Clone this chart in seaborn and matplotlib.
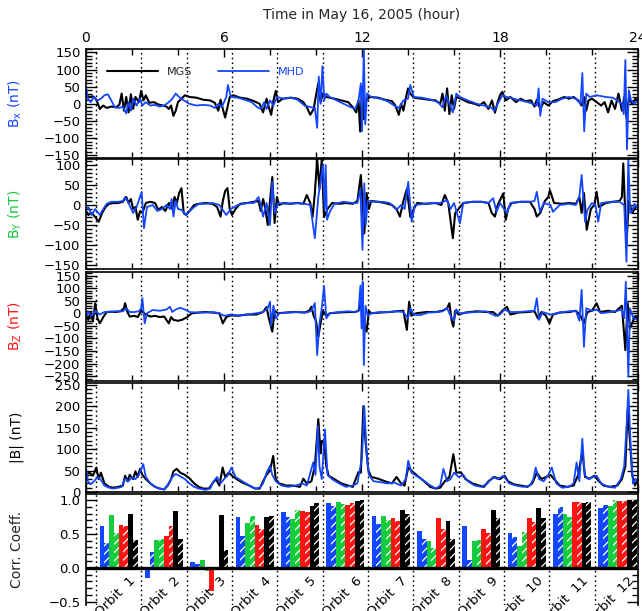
import numpy as np
import pandas as pd
import matplotlib
matplotlib.use('Agg')
import matplotlib.pyplot as plt
import seaborn as sns
from matplotlib.ticker import MultipleLocator

bx_mgs = [(0.0, 25), (0.15, 20), (0.3, 22), (0.45, 12), (0.6, -15), (0.75, -5), (0.9, -12), (1.1, -8),
          (1.3, -10), (1.45, -3), (1.55, 30), (1.65, -20), (1.75, 20), (1.85, -25), (1.95, 28), (2.05, -15),
          (2.15, 20), (2.3, 5), (2.4, 38), (2.5, 10), (2.6, 25), (2.75, 3), (2.95, 5), (3.15, -2), (3.35, -5),
          (3.5, -8), (3.6, -15), (3.7, -5), (3.8, -35), (3.9, -20), (4.0, 5), (4.15, 15), (4.3, 25), (4.5, 20),
          (4.8, 18), (5.1, 12), (5.4, 10), (5.6, 3), (5.75, -20), (5.85, 12), (5.95, -15), (6.05, -40),
          (6.15, -10), (6.25, 20), (6.4, 25), (6.7, 18), (7.0, 15), (7.3, 8), (7.55, 0), (7.7, -25), (7.85, 15),
          (7.95, -10), (8.05, -32), (8.15, 10), (8.25, 38), (8.35, 5), (8.55, 15), (8.9, 18), (9.2, 15),
          (9.45, 5), (9.6, -10), (9.75, -32), (9.9, -15), (10.0, 25), (10.1, 60), (10.2, 5), (10.3, 30),
          (10.45, 20), (10.8, 15), (11.1, 10), (11.4, 5), (11.6, -10), (11.75, -25), (11.85, 10), (11.92, -81),
          (12.0, 50), (12.08, -45), (12.18, 10), (12.35, 20), (12.7, 18), (13.0, 12), (13.3, 8), (13.45, -5),
          (13.6, -32), (13.7, 0), (13.8, -20), (13.9, 15), (14.0, 45), (14.1, 30), (14.25, 18), (14.6, 15),
          (14.9, 12), (15.2, 10), (15.4, 0), (15.5, 30), (15.6, -20), (15.7, 45), (15.8, -30), (15.9, 25),
          (16.0, -15), (16.1, 20), (16.3, 15), (16.6, 5), (16.9, 0), (17.1, -5), (17.3, 5), (17.5, -15),
          (17.65, 10), (17.78, -26), (17.9, 5), (18.0, 25), (18.1, 35), (18.25, 10), (18.45, 20), (18.7, 5),
          (18.9, 15), (19.1, 8), (19.35, 10), (19.5, -8), (19.6, 12), (19.75, -15), (19.9, 5), (20.1, -5),
          (20.3, 8), (20.5, 12), (20.8, 20), (21.0, 15), (21.2, 20), (21.4, 10), (21.55, -5), (21.65, 20),
          (21.75, -20), (21.85, 10), (22.0, 15), (22.2, 5), (22.4, -5), (22.55, 5), (22.7, -25), (22.85, 10),
          (23.0, -15), (23.15, 30), (23.3, -20), (23.4, 20), (23.5, -40), (23.6, 15), (23.75, 0), (23.9, 15),
          (24.0, 10)]
bx_mhd = [(0.0, 50), (0.08, 15), (0.2, 5), (0.35, 20), (0.5, 10), (0.65, 15), (0.8, 25), (0.95, 28), (1.1, 10),
          (1.25, -10), (1.45, -12), (1.6, -8), (1.75, -28), (1.85, 5), (1.95, -20), (2.05, 15), (2.2, -5),
          (2.35, 15), (2.45, -5), (2.6, 5), (2.8, -5), (3.0, -3), (3.2, -8), (3.4, -5), (3.6, 5), (3.75, 15),
          (3.9, 30), (4.05, 20), (4.25, 10), (4.5, 0), (4.8, -5), (5.1, -3), (5.4, -5), (5.6, -12), (5.75, 0),
          (5.9, -10), (6.0, 5), (6.1, 20), (6.17, 55), (6.3, 20), (6.6, 18), (6.9, 12), (7.2, 5), (7.45, -10),
          (7.6, -15), (7.75, 5), (7.85, -15), (8.0, 10), (8.15, -5), (8.3, 20), (8.6, 15), (8.9, 18), (9.2, 12),
          (9.5, -5), (9.8, -10), (9.95, -12), (10.05, -70), (10.12, 80), (10.2, 0), (10.28, 110), (10.36, 10),
          (10.45, 30), (10.6, 20), (10.9, 10), (11.2, 0), (11.45, -8), (11.7, -15), (11.85, 10), (11.95, 60),
          (12.0, -80), (12.08, 160), (12.14, -60), (12.22, 30), (12.4, 20), (12.8, 15), (13.1, 8), (13.4, -5),
          (13.6, -12), (13.8, 10), (14.0, 15), (14.1, 55), (14.25, 20), (14.6, 18), (15.0, 12), (15.3, 5),
          (15.5, -10), (15.65, 25), (15.8, 0), (15.95, -25), (16.1, 30), (16.25, 20), (16.6, 10), (17.0, 0),
          (17.3, -5), (17.6, -10), (17.75, -20), (17.9, 0), (18.1, 25), (18.3, 20), (18.6, 15), (18.9, 10),
          (19.2, 5), (19.45, 0), (19.6, -5), (19.68, 45), (19.75, -35), (19.85, 15), (20.1, 5), (20.4, 5),
          (20.7, 15), (21.0, 20), (21.3, 15), (21.5, 0), (21.58, 90), (21.66, -80), (21.75, 30), (21.9, 20),
          (22.2, 25), (22.6, 20), (22.9, 18), (23.1, 10), (23.3, 0), (23.38, -30), (23.45, 128), (23.52, -133),
          (23.6, 40), (23.7, 10), (23.85, 0), (24.0, 10)]

by_mgs = [(0.0, -15), (0.1, -25), (0.25, -20), (0.4, -30), (0.55, -42), (0.7, -20), (0.85, -5), (1.0, 3),
          (1.2, 5), (1.4, 5), (1.6, 8), (1.75, 20), (1.85, 5), (1.95, 15), (2.05, -10), (2.15, -5), (2.25, -37),
          (2.35, -15), (2.45, -20), (2.6, 5), (2.8, 8), (3.0, 5), (3.15, -12), (3.3, -5), (3.45, -15), (3.6, 5),
          (3.75, -10), (3.85, 20), (3.95, 5), (4.05, 30), (4.15, 42), (4.25, -20), (4.35, -25), (4.5, -15),
          (4.7, 0), (4.9, 3), (5.2, 5), (5.5, 3), (5.7, -5), (5.85, -29), (5.95, 10), (6.05, 35), (6.15, 42),
          (6.25, -10), (6.35, -25), (6.5, -10), (6.7, 3), (7.0, 5), (7.3, 8), (7.5, 10), (7.6, -15), (7.7, 15),
          (7.8, -10), (7.9, -50), (8.0, 10), (8.1, 70), (8.2, -45), (8.3, 20), (8.4, 0), (8.6, 5), (8.9, 3),
          (9.2, 5), (9.45, 3), (9.6, 25), (9.75, 5), (9.85, -30), (9.95, 30), (10.05, 115), (10.15, 40),
          (10.25, 115), (10.35, -30), (10.5, -10), (10.7, 5), (11.0, 3), (11.3, 5), (11.6, 3), (11.8, 10),
          (11.95, 75), (12.1, -71), (12.2, 30), (12.3, -10), (12.4, 10), (12.7, 8), (13.0, 5), (13.3, 0),
          (13.5, -10), (13.65, -29), (13.8, 10), (13.95, 40), (14.1, -30), (14.25, -10), (14.4, 5), (14.8, 3),
          (15.2, 5), (15.45, 0), (15.6, 25), (15.75, 5), (15.85, -40), (15.95, -83), (16.05, -20), (16.2, -10),
          (16.4, 5), (16.8, 8), (17.2, 8), (17.5, 5), (17.64, -20), (17.78, -29), (17.9, 0), (18.14, 29),
          (18.25, -37), (18.35, -10), (18.5, 5), (18.9, 8), (19.3, 8), (19.5, -10), (19.6, -29), (19.75, -20),
          (19.95, 10), (20.1, 20), (20.17, 37), (20.35, 5), (20.7, 3), (21.0, 5), (21.3, 3), (21.45, 20),
          (21.55, -20), (21.65, 30), (21.77, -62), (21.95, -10), (22.1, 0), (22.2, 33), (22.3, -5), (22.6, 5),
          (22.9, 8), (23.2, 10), (23.3, 20), (23.36, 104), (23.5, -100), (23.6, 10), (23.75, -20), (23.9, -5),
          (24.0, 0)]
by_mhd = [(0.0, -10), (0.1, -5), (0.25, -25), (0.4, -10), (0.6, -25), (0.75, -10), (0.9, 3), (1.1, 8),
          (1.4, 8), (1.6, 10), (1.7, 20), (1.85, 5), (2.05, -20), (2.2, -5), (2.42, 33), (2.52, -58), (2.65, -5),
          (2.9, 0), (3.1, -15), (3.3, -10), (3.5, 0), (3.65, -10), (3.72, 15), (3.8, -29), (3.9, 10),
          (4.0, -10), (4.15, -12), (4.35, -25), (4.6, -10), (4.9, 3), (5.2, 3), (5.5, 5), (5.8, 0), (6.1, -25),
          (6.3, -10), (6.6, 0), (7.0, 5), (7.3, 5), (7.5, 20), (7.6, 0), (7.7, -29), (7.85, 5), (8.0, -50),
          (8.1, 58), (8.2, -20), (8.35, 5), (8.7, 3), (9.1, 5), (9.5, 3), (9.75, 0), (9.95, -83), (10.1, 20),
          (10.2, 60), (10.3, 100), (10.38, -10), (10.42, 100), (10.48, -37), (10.6, -17), (10.8, 3), (11.2, 8),
          (11.6, 5), (11.8, 5), (11.93, 40), (12.02, -112), (12.1, 54), (12.16, -50), (12.25, 10), (12.5, 8),
          (12.9, 8), (13.2, 5), (13.5, -12), (13.7, 0), (13.85, -10), (14.01, 58), (14.16, -42), (14.3, 0),
          (14.7, 3), (15.1, 5), (15.4, 5), (15.7, 12), (15.85, -10), (16.0, 5), (16.26, -46), (16.4, 5),
          (16.8, 8), (17.2, 8), (17.5, 5), (17.7, 17), (17.85, -17), (18.0, 5), (18.3, -21), (18.45, 5),
          (18.9, 8), (19.3, 8), (19.5, 10), (19.6, 33), (19.74, -17), (19.9, 5), (20.2, 0), (20.3, -17),
          (20.6, 0), (21.0, 3), (21.3, 0), (21.45, 20), (21.55, 75), (21.7, -42), (21.8, -12), (22.0, 5),
          (22.15, 0), (22.27, -42), (22.4, 5), (22.8, 8), (23.2, 8), (23.4, 0), (23.5, -142), (23.58, 115),
          (23.66, -20), (23.72, -17), (23.85, 3), (24.0, -10)]

bz_mgs = [(0.0, -10), (0.1, -26), (0.2, 5), (0.3, -33), (0.4, 40), (0.5, -20), (0.6, -40), (0.75, -15),
          (0.9, 5), (1.1, 6), (1.3, 5), (1.5, 8), (1.65, 20), (1.7, 40), (1.8, 5), (1.9, -13), (2.1, -10),
          (2.25, -15), (2.4, 10), (2.6, -5), (2.8, -13), (3.0, -10), (3.2, -15), (3.4, -13), (3.6, -40),
          (3.7, -15), (3.8, -26), (4.0, -30), (4.2, -25), (4.4, -15), (4.6, 0), (4.9, 3), (5.2, 5), (5.5, 3),
          (5.8, 0), (5.95, -40), (6.1, -15), (6.3, -8), (6.6, -10), (7.0, -5), (7.4, -5), (7.7, 5), (7.85, 25),
          (7.95, -20), (8.1, -73), (8.2, 10), (8.35, 0), (8.7, 3), (9.1, 5), (9.5, 3), (9.7, 10), (9.8, 26),
          (9.9, -10), (10.0, -30), (10.1, -93), (10.2, -40), (10.3, 10), (10.45, -10), (10.6, 0), (11.0, 3),
          (11.4, 5), (11.7, 5), (11.85, 10), (11.95, 40), (12.05, -30), (12.2, -73), (12.3, 10), (12.4, 0),
          (12.8, 3), (13.2, 5), (13.5, 8), (13.8, 10), (13.95, -66), (14.05, 46), (14.15, -10), (14.35, 0),
          (14.8, 5), (15.2, 5), (15.5, 10), (15.7, 20), (15.8, 40), (15.9, -30), (15.97, -53), (16.05, 10),
          (16.2, -5), (16.5, 3), (17.0, 8), (17.4, 5), (17.7, 5), (17.9, -10), (18.1, 10), (18.3, 26),
          (18.45, -5), (18.8, 3), (19.2, 5), (19.5, 8), (19.65, -20), (19.8, 5), (20.0, -10), (20.15, -40),
          (20.3, -5), (20.6, 3), (21.0, 5), (21.3, 10), (21.5, -10), (21.65, -40), (21.8, 5), (22.0, 10),
          (22.2, 40), (22.35, 5), (22.7, 10), (23.0, 5), (23.3, 30), (23.45, -146), (23.55, 40), (23.65, -60),
          (23.8, -26), (23.9, -10), (24.0, -30)]
bz_mhd = [(0.0, -15), (0.1, 5), (0.25, -10), (0.4, 10), (0.6, -5), (0.8, 5), (1.0, 6), (1.3, 8), (1.6, 8),
          (1.75, 20), (1.9, 5), (2.1, 5), (2.3, 8), (2.4, 20), (2.45, 60), (2.55, -40), (2.65, 0), (2.9, 13),
          (3.2, 10), (3.5, 15), (3.65, 26), (3.75, 5), (3.9, 15), (4.1, 22), (4.3, 15), (4.5, 5), (4.8, 3),
          (5.2, 3), (5.5, 5), (5.8, 0), (6.0, -10), (6.3, -5), (6.6, -8), (7.0, -5), (7.4, 0), (7.7, 5),
          (7.9, 20), (8.0, 46), (8.05, -50), (8.15, 30), (8.25, -20), (8.4, 0), (8.8, 3), (9.2, 5), (9.6, 3),
          (9.8, 10), (9.95, 40), (10.05, -166), (10.15, -40), (10.25, 20), (10.35, 108), (10.45, -20),
          (10.6, 0), (11.0, 5), (11.4, 8), (11.7, 5), (11.85, 10), (11.93, 110), (11.98, -60), (12.03, 125),
          (12.08, -206), (12.15, 30), (12.25, -10), (12.4, 0), (12.8, 5), (13.2, 5), (13.5, 8), (13.8, 5),
          (14.0, -20), (14.1, 20), (14.25, -5), (14.5, -8), (14.9, 3), (15.3, 5), (15.5, 8), (15.7, 20),
          (15.85, -10), (16.0, -30), (16.1, 15), (16.25, 0), (16.6, 3), (17.0, 5), (17.4, 8), (17.8, -10),
          (18.0, -5), (18.2, 15), (18.4, 5), (18.8, 5), (19.2, 8), (19.5, 10), (19.6, 60), (19.7, -26),
          (19.85, 5), (20.2, -5), (20.6, 3), (21.0, 8), (21.3, 10), (21.45, -30), (21.55, 93), (21.65, -133),
          (21.75, 20), (22.0, 10), (22.2, 15), (22.4, 0), (22.8, 5), (23.1, 10), (23.3, 15), (23.4, -20),
          (23.47, 125), (23.58, -252), (23.65, 20), (23.8, -20), (24.0, -25)]

bt_mgs = [(0.0, 40), (0.15, 45), (0.3, 38), (0.45, 57), (0.55, 30), (0.65, 45), (0.8, 20), (1.0, 12),
          (1.2, 10), (1.4, 12), (1.6, 15), (1.7, 38), (1.8, 25), (1.9, 40), (2.05, 30), (2.15, 48), (2.25, 35),
          (2.35, 54), (2.45, 40), (2.6, 30), (2.8, 20), (3.0, 12), (3.2, 8), (3.4, 6), (3.55, 15), (3.7, 30),
          (3.8, 48), (3.94, 54), (4.1, 45), (4.3, 40), (4.5, 32), (4.7, 20), (4.9, 12), (5.1, 8), (5.35, 8),
          (5.5, 20), (5.65, 30), (5.8, 15), (5.94, 57), (6.05, 35), (6.2, 45), (6.35, 38), (6.55, 30),
          (6.8, 22), (7.1, 15), (7.35, 8), (7.55, 8), (7.7, 25), (7.85, 40), (8.0, 50), (8.14, 84), (8.25, 30),
          (8.4, 20), (8.7, 15), (9.0, 15), (9.3, 12), (9.45, 31), (9.6, 20), (9.8, 25), (9.95, 60),
          (10.1, 170), (10.2, 90), (10.25, 119), (10.35, 115), (10.45, 60), (10.55, 38), (10.8, 30),
          (11.1, 20), (11.4, 15), (11.6, 12), (11.84, 46), (11.95, 45), (12.06, 200), (12.15, 120),
          (12.27, 52), (12.4, 35), (12.7, 31), (13.0, 25), (13.3, 20), (13.5, 35), (13.7, 20), (13.85, 15),
          (14.01, 57), (14.23, 46), (14.4, 38), (14.7, 25), (14.96, 12), (15.2, 8), (15.4, 10), (15.6, 25),
          (15.8, 35), (15.97, 88), (16.1, 45), (16.3, 46), (16.5, 30), (16.8, 20), (17.1, 15), (17.3, 12),
          (17.5, 25), (17.75, 35), (18.0, 30), (18.2, 38), (18.35, 25), (18.6, 18), (18.9, 15), (19.2, 12),
          (19.4, 20), (19.6, 45), (19.8, 30), (20.0, 35), (20.2, 40), (20.35, 30), (20.6, 15), (20.9, 12),
          (21.2, 15), (21.4, 40), (21.58, 95), (21.7, 35), (21.9, 31), (22.1, 38), (22.3, 25), (22.5, 15),
          (22.8, 12), (23.1, 15), (23.3, 30), (23.45, 60), (23.55, 192), (23.65, 120), (23.75, 40),
          (23.87, 15), (24.0, 31)]
bt_mhd = [(0.0, 57), (0.08, 25), (0.2, 18), (0.35, 25), (0.5, 35), (0.65, 28), (0.8, 15), (1.0, 10),
          (1.2, 8), (1.4, 10), (1.55, 12), (1.7, 31), (1.85, 25), (2.0, 35), (2.15, 30), (2.3, 40), (2.49, 65),
          (2.6, 35), (2.8, 20), (3.0, 12), (3.2, 8), (3.4, 6), (3.6, 20), (3.75, 35), (3.9, 42), (4.05, 38),
          (4.3, 30), (4.5, 20), (4.7, 12), (4.9, 8), (5.2, 5), (5.4, 8), (5.55, 25), (5.7, 35), (5.85, 20),
          (6.0, 30), (6.15, 38), (6.33, 57), (6.5, 35), (6.8, 25), (7.1, 15), (7.35, 8), (7.55, 10), (7.7, 20),
          (7.85, 45), (8.0, 61), (8.1, 40), (8.25, 25), (8.5, 15), (8.8, 12), (9.1, 15), (9.4, 20), (9.6, 15),
          (9.88, 69), (9.98, 40), (10.08, 154), (10.15, 60), (10.25, 30), (10.39, 146), (10.5, 40), (10.7, 30),
          (11.0, 20), (11.3, 12), (11.6, 15), (11.8, 20), (11.91, 54), (12.0, 80), (12.1, 200), (12.2, 90),
          (12.3, 40), (12.5, 25), (12.8, 23), (13.1, 20), (13.4, 22), (13.7, 15), (13.9, 30), (14.01, 73),
          (14.15, 45), (14.35, 38), (14.6, 30), (14.9, 18), (15.2, 8), (15.4, 15), (15.54, 54), (15.7, 25),
          (15.85, 30), (16.0, 45), (16.2, 35), (16.4, 40), (16.6, 25), (16.9, 15), (17.2, 12), (17.45, 20),
          (17.7, 35), (17.9, 30), (18.15, 38), (18.4, 20), (18.7, 15), (19.0, 12), (19.3, 15), (19.45, 30),
          (19.55, 57), (19.7, 30), (19.9, 25), (20.1, 40), (20.25, 57), (20.45, 20), (20.7, 10), (21.0, 12),
          (21.2, 20), (21.33, 69), (21.45, 25), (21.58, 124), (21.68, 40), (21.85, 30), (22.05, 35),
          (22.2, 38), (22.4, 20), (22.7, 12), (23.0, 10), (23.25, 30), (23.4, 60), (23.5, 150), (23.58, 238),
          (23.68, 110), (23.78, 20), (23.9, 30), (24.0, 25)]

# correlation coefficients per orbit (solid / hatched bar for each component)
orbits = ['Orbit  %d' % i for i in range(1, 13)]
corr_bx = [0.62, -0.15, 0.08, 0.75, 0.83, 0.96, 0.77, 0.54, 0.62, 0.52, 0.79, 0.89]
corr_bx_h = [0.36, 0.23, 0.05, 0.47, 0.75, 0.91, 0.64, 0.43, 0.12, 0.46, 0.90, 0.93]
corr_by = [0.78, 0.41, 0.12, 0.66, 0.72, 0.97, 0.76, 0.39, 0.39, 0.32, 0.80, 0.91]
corr_by_h = [0.52, 0.43, -0.05, 0.77, 0.85, 0.94, 0.71, 0.29, 0.41, 0.53, 0.75, 1.00]
corr_bz = [0.63, 0.47, -0.35, 0.63, 0.84, 0.93, 0.73, 0.73, 0.57, 0.73, 0.97, 0.98]
corr_bz_h = [0.62, 0.61, 0.01, 0.57, 0.82, 0.95, 0.69, 0.57, 0.51, 0.68, 0.97, 0.99]
corr_bt = [0.79, 0.84, 0.78, 0.75, 0.91, 0.99, 0.85, 0.69, 0.85, 0.89, 0.95, 1.00]
corr_bt_h = [0.41, 0.42, 0.27, 0.76, 0.95, 1.00, 0.79, 0.42, 0.73, 0.73, 0.97, 1.00]

# orbit boundaries (dotted lines): first periapsis and MGS orbital period, hours
orbit_start = 0.43
orbit_period = 1.972

blue = '#1346FF'
green = '#14CC3C'
red = '#FF1414'

sns.set_theme(style='white')
plt.rcParams['font.family'] = ['DejaVu Sans']
plt.rcParams['hatch.color'] = 'white'
plt.rcParams['hatch.linewidth'] = 0.9

fig = plt.figure(figsize=(6.42, 6.11), dpi=100)
L, W = 86/642, 552/642
def pos(top, bot):
    return [L, (611-bot)/611, W, (bot-top)/611]

ax1 = fig.add_axes(pos(49, 158))
ax2 = fig.add_axes(pos(159, 269))
ax3 = fig.add_axes(pos(272, 381))
ax4 = fig.add_axes(pos(383, 492))
ax5 = fig.add_axes(pos(494, 605))

panels = [(ax1, bx_mgs, bx_mhd, (-158, 160), r'B$_\mathregular{x}$ (nT)', blue),
          (ax2, by_mgs, by_mhd, (-160, 115), r'B$_\mathregular{Y}$ (nT)', green),
          (ax3, bz_mgs, bz_mhd, (-269, 164), r'B$_\mathregular{Z}$ (nT)', red),
          (ax4, bt_mgs, bt_mhd, (0, 254), '|B| (nT)', 'black')]

bounds = [orbit_start + orbit_period*k for k in range(12)]

for ax, mgs, mhd, ylim, lab, col in panels:
    d1 = pd.DataFrame(mgs, columns=['hour', 'nT'])
    d2 = pd.DataFrame(mhd, columns=['hour', 'nT'])
    sns.lineplot(data=d1, x='hour', y='nT', color='black', linewidth=1.5,
                 estimator=None, sort=False, ax=ax, label='MGS')
    sns.lineplot(data=d2, x='hour', y='nT', color=blue, linewidth=1.3,
                 estimator=None, sort=False, ax=ax, label='MHD')
    for b in bounds:
        ax.axvline(b, color='black', linestyle=(0, (1.2, 2.2)), linewidth=1.0, zorder=0)
    ax.set_xlim(0, 24)
    ax.set_ylim(*ylim)
    ax.xaxis.set_major_locator(MultipleLocator(6))
    ax.xaxis.set_minor_locator(MultipleLocator(2))
    ax.yaxis.set_major_locator(MultipleLocator(50))
    ax.yaxis.set_minor_locator(MultipleLocator(10))
    ax.set_xlabel('')
    ax.set_ylabel(lab, color=col, fontsize=10)
    ax.yaxis.set_label_coords(-0.112, 0.5)
    if ax.get_legend() is not None:
        ax.get_legend().remove()

# bar panel
rows = []
kinds = [('Bx', corr_bx), ('Bx h', corr_bx_h), ('By', corr_by), ('By h', corr_by_h),
         ('Bz', corr_bz), ('Bz h', corr_bz_h), ('B', corr_bt), ('B h', corr_bt_h)]
for name, vals in kinds:
    for o, v in zip(orbits, vals):
        rows.append({'orbit': o, 'kind': name, 'r': v})
df_corr = pd.DataFrame(rows)
sns.barplot(data=df_corr, x='orbit', y='r', hue='kind', order=orbits,
            hue_order=[k[0] for k in kinds],
            palette=[blue, blue, green, green, red, red, 'black', 'black'],
            width=0.84, gap=0, saturation=1, errorbar=None, legend=False, ax=ax5)
for i, cont in enumerate(ax5.containers):
    for bar in cont:
        bar.set_linewidth(0)
        if i % 2 == 1:
            bar.set_hatch('////')
            bar.set_edgecolor('white')
# map the categorical axis onto the time axis
x0 = (0 - orbit_start)/orbit_period - 0.5
x1 = (24 - orbit_start)/orbit_period - 0.5
ax5.set_xlim(x0, x1)
for k in range(12):
    ax5.axvline(k - 0.5, color='black', linestyle=(0, (1.2, 2.2)), linewidth=1.0, zorder=0)
ax5.axhline(0, color='black', linewidth=2.4, zorder=5)
ax5.set_ylim(-0.55, 1.09)
ax5.yaxis.set_major_locator(MultipleLocator(0.5))
ax5.yaxis.set_minor_locator(MultipleLocator(0.1))
ax5.yaxis.set_major_formatter('{x:.1f}')
ax5.set_xticks([])
ax5.set_xlabel('')
ax5.set_ylabel('Corr. Coeff.', fontsize=10)
ax5.yaxis.set_label_coords(-0.112, 0.5)
ax5.spines['bottom'].set_visible(False)
for k, o in enumerate(orbits):
    ax5.text(k + 0.32, -0.17, o, rotation=45, ha='right', va='center',
             rotation_mode='anchor', fontsize=9.5, color='black', zorder=6)

for ax in [ax1, ax2, ax3, ax4, ax5]:
    for s in ax.spines.values():
        s.set_linewidth(1.2)
        s.set_color('black')
    ax.tick_params(axis='both', which='both', direction='in', top=True, right=True,
                   bottom=True, left=True, labelbottom=False, labeltop=False,
                   labelsize=9.5, colors='black', width=1.0)
    ax.tick_params(axis='y', which='major', length=8, pad=4)
    ax.tick_params(axis='y', which='minor', length=4)
    ax.tick_params(axis='x', which='major', length=6)
    ax.tick_params(axis='x', which='minor', length=4)
ax5.tick_params(axis='x', which='both', length=0)

ax1.tick_params(axis='x', which='major', labeltop=True, labelsize=10, pad=3)

leg = ax1.legend(ax1.get_lines()[:1] + [ax1.get_lines()[1]], ['MGS', 'MHD'], loc='center left',
                 bbox_to_anchor=(0.038, 0.79), ncol=2, frameon=False, fontsize=8,
                 handlelength=4.6, handletextpad=0.8, columnspacing=2.3,
                 borderpad=0, borderaxespad=0)
leg.get_texts()[1].set_color(blue)

fig.text(362/642, 1 - 15/611, 'Time in May 16, 2005 (hour)', ha='center', va='center', fontsize=10)

fig.savefig('out.png', dpi=100)
